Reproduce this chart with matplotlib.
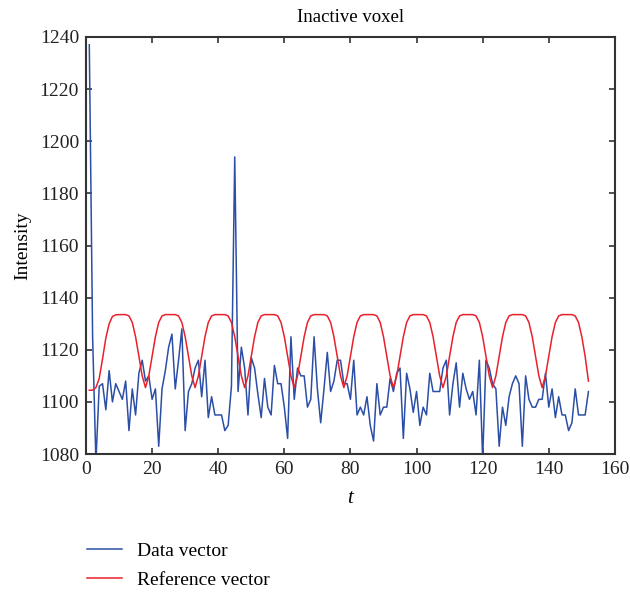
import matplotlib
matplotlib.use("Agg")
import matplotlib.pyplot as plt

# data
t = list(range(1, 153))
data_vector = [
    1237, 1125, 1077, 1106, 1107, 1097, 1112, 1100, 1107, 1104,
    1101, 1108, 1089, 1105, 1095, 1111, 1116, 1108, 1110, 1101,
    1105, 1083, 1105, 1112, 1121, 1126, 1105, 1116, 1128, 1089,
    1104, 1107, 1113, 1116, 1102, 1116, 1094, 1102, 1095, 1095,
    1095, 1089, 1091, 1106, 1194, 1104, 1121, 1113, 1095, 1117,
    1113, 1103, 1094, 1109, 1098, 1095, 1114, 1107, 1107, 1098,
    1086, 1125, 1101, 1113, 1110, 1110, 1098, 1101, 1125, 1105,
    1092, 1105, 1119, 1104, 1108, 1116, 1116, 1107, 1107, 1101,
    1116, 1095, 1098, 1095, 1102, 1091, 1085, 1107, 1095, 1098,
    1098, 1109, 1104, 1111, 1113, 1086, 1111, 1105, 1096, 1104,
    1091, 1098, 1095, 1111, 1104, 1104, 1104, 1113, 1116, 1095,
    1107, 1115, 1098, 1111, 1105, 1101, 1104, 1095, 1116, 1078,
    1116, 1113, 1107, 1105, 1083, 1098, 1091, 1102, 1107, 1110,
    1107, 1083, 1110, 1101, 1098, 1098, 1101, 1101, 1111, 1098,
    1105, 1094, 1102, 1095, 1095, 1089, 1092, 1105, 1095, 1095,
    1095, 1104,
]
reference_vector = [
    1104.5, 1104.5, 1105.5, 1109.0, 1116.5, 1124.5, 1130.0, 1132.8, 1133.4, 1133.5,
    1133.5, 1133.5, 1133.0, 1130.5, 1125.0, 1117.5, 1110.0,
    1105.5, 1110.0, 1117.5, 1125.0, 1130.5, 1133.0, 1133.5, 1133.5, 1133.5, 1133.5, 1133.0, 1130.5, 1125.0, 1117.5, 1110.0,
    1105.5, 1110.0, 1117.5, 1125.0, 1130.5, 1133.0, 1133.5, 1133.5, 1133.5, 1133.5, 1133.0, 1130.5, 1125.0, 1117.5, 1110.0,
    1105.5, 1110.0, 1117.5, 1125.0, 1130.5, 1133.0, 1133.5, 1133.5, 1133.5, 1133.5, 1133.0, 1130.5, 1125.0, 1117.5, 1110.0,
    1105.5, 1110.0, 1117.5, 1125.0, 1130.5, 1133.0, 1133.5, 1133.5, 1133.5, 1133.5, 1133.0, 1130.5, 1125.0, 1117.5, 1110.0,
    1105.5, 1110.0, 1117.5, 1125.0, 1130.5, 1133.0, 1133.5, 1133.5, 1133.5, 1133.5, 1133.0, 1130.5, 1125.0, 1117.5, 1110.0,
    1105.5, 1110.0, 1117.5, 1125.0, 1130.5, 1133.0, 1133.5, 1133.5, 1133.5, 1133.5, 1133.0, 1130.5, 1125.0, 1117.5, 1110.0,
    1105.5, 1110.0, 1117.5, 1125.0, 1130.5, 1133.0, 1133.5, 1133.5, 1133.5, 1133.5, 1133.0, 1130.5, 1125.0, 1117.5, 1110.0,
    1105.5, 1110.0, 1117.5, 1125.0, 1130.5, 1133.0, 1133.5, 1133.5, 1133.5, 1133.5, 1133.0, 1130.5, 1125.0, 1117.5, 1110.0,
    1105.5, 1110.0, 1117.5, 1125.0, 1130.5, 1133.0, 1133.5, 1133.5, 1133.5, 1133.5, 1133.0, 1130.5, 1125.0, 1117.5, 1108.0,
]
xticks = [0, 20, 40, 60, 80, 100, 120, 140, 160]
yticks = [1080, 1100, 1120, 1140, 1160, 1180, 1200, 1220, 1240]


def main() -> None:
    plt.rcParams["font.family"] = ["Liberation Serif", "DejaVu Serif"]
    c_data = "#2b4fa6"
    c_ref = "#e8212b"
    c_axis = "#333333"

    fig = plt.figure(figsize=(6.3, 5.92), dpi=100)
    ax = fig.add_axes([0.1365, 0.233, 0.8395, 0.7045])

    ax.plot(t, data_vector, color=c_data, linewidth=1.1, label="Data vector")
    ax.plot(t, reference_vector, color=c_ref, linewidth=1.1, label="Reference vector")

    ax.set_xlim(0, 160)
    ax.set_ylim(1080, 1240)
    ax.set_xticks(xticks)
    ax.set_yticks(yticks)
    ax.tick_params(direction="in", top=True, right=True, length=4, width=1.2,
                   colors=c_axis, labelcolor="#222222", labelsize=14, pad=5)
    for s in ax.spines.values():
        s.set_color(c_axis)
        s.set_linewidth(1.5)

    ax.set_title("Inactive voxel", fontsize=13.5, pad=11)
    ax.set_ylabel("Intensity", fontsize=14, labelpad=6)
    ax.set_xlabel("t", fontsize=15, style="italic", labelpad=8)

    fig.legend(loc="center left", bbox_to_anchor=(0.111, 0.045), frameon=False,
               fontsize=14, handlelength=1.8, handletextpad=0.75, labelspacing=0.6)

    fig.savefig("out.png", dpi=100)
    plt.close(fig)


if __name__ == "__main__":
    main()
